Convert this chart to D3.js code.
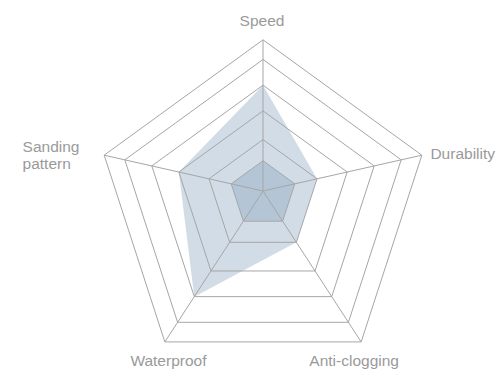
<!DOCTYPE html>
<html>
<head>
<meta charset="utf-8">
<script src="https://cdn.jsdelivr.net/npm/d3@7"></script>
<style>
  html, body { margin: 0; padding: 0; background: #fff; }
  svg { display: block; }
  text { font-family: "Liberation Sans", Arial, Helvetica, sans-serif; }
</style>
</head>
<body>
<svg id="chart" width="500" height="369"></svg>
<script>
// ---- data ----
const axes = ["Speed", "Durability", "Anti-clogging", "Waterproof", "Sanding pattern"];
const seriesMain = [70, 34, 34, 70, 53];
const seriesBase = [20, 20, 20, 20, 20];
const ringLevels = [20, 34, 53, 70, 87, 100];
const maxValue = 100;

// ---- layout ----
const W = 500, H = 369;
const frameCenter = { x: 263, y: 206.8 };   // centre of outer pentagon
const frameRadius = 167;
const hub = { x: 263, y: 191 };             // where spokes meet

const svg = d3.select("#chart");
const n = axes.length;
const angle = d3.scaleLinear().domain([0, n]).range([0, 2 * Math.PI]);
const frac = d3.scaleLinear().domain([0, maxValue]).range([0, 1]);

const outer = axes.map((a, i) => ({
  x: frameCenter.x + frameRadius * Math.sin(angle(i)),
  y: frameCenter.y - frameRadius * Math.cos(angle(i))
}));
function pt(i, v) {
  const f = frac(v);
  return [hub.x + f * (outer[i].x - hub.x), hub.y + f * (outer[i].y - hub.y)];
}
const line = d3.line().curve(d3.curveLinearClosed);

// series fills
const fillColor = "rgb(131,160,187)";
[seriesBase, seriesMain].forEach(s => {
  svg.append("path")
    .attr("d", line(s.map((v, i) => pt(i, v))))
    .attr("fill", fillColor)
    .attr("fill-opacity", 0.37)
    .attr("stroke", "none");
});

// grid rings
const gridColor = "#a6a6a6";
svg.append("g").selectAll("path").data(ringLevels).join("path")
  .attr("d", lv => line(axes.map((a, i) => pt(i, lv))))
  .attr("fill", "none")
  .attr("stroke", gridColor)
  .attr("stroke-width", 1);

// spokes
svg.append("g").selectAll("line").data(axes).join("line")
  .attr("x1", hub.x).attr("y1", hub.y)
  .attr("x2", (d, i) => pt(i, maxValue)[0])
  .attr("y2", (d, i) => pt(i, maxValue)[1])
  .attr("stroke", gridColor)
  .attr("stroke-width", 1);

// labels
const labelOffsets = [
  { dx: -1, dy: -13.5, anchor: "middle" },
  { dx: 8.6, dy: 4.3, anchor: "start" },
  { dx: -7, dy: 24, anchor: "middle" },
  { dx: 3.6, dy: 24, anchor: "middle" },
  { dx: -81.6, dy: -3.3, anchor: "start" }
];
const labelColor = "#9a9a9a";
axes.forEach((name, i) => {
  const o = labelOffsets[i];
  const t = svg.append("text")
    .attr("x", outer[i].x + o.dx)
    .attr("y", outer[i].y + o.dy)
    .attr("text-anchor", o.anchor)
    .attr("fill", labelColor)
    .attr("font-size", "15.5px");
  const words = name === "Sanding pattern" ? ["Sanding", "pattern"] : [name];
  words.forEach((w, k) => {
    t.append("tspan")
      .attr("x", outer[i].x + o.dx)
      .attr("dy", k === 0 ? 0 : 17.5)
      .text(w);
  });
});
</script>
</body>
</html>
